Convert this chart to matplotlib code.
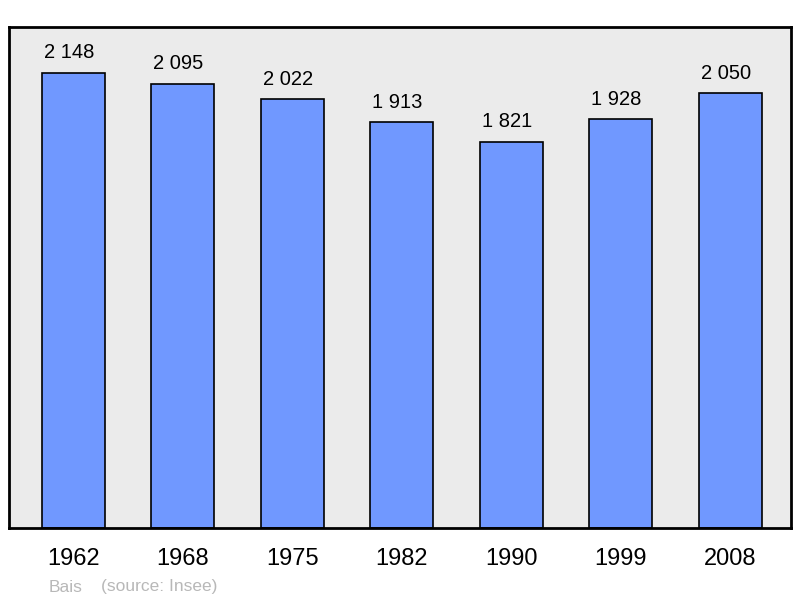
import matplotlib
matplotlib.use("Agg")
import matplotlib.pyplot as plt

plt.rcParams['font.family'] = ['Liberation Sans', 'DejaVu Sans']

years = ["1962", "1968", "1975", "1982", "1990", "1999", "2008"]
population = [2148, 2095, 2022, 1913, 1821, 1928, 2050]
value_labels = ["2 148", "2 095", "2 022", "1 913", "1 821", "1 928", "2 050"]

fig = plt.figure(figsize=(8.0, 5.98), dpi=100)
ax = fig.add_axes([9 / 800, 70 / 598, 782 / 800, 501 / 598])
ax.set_facecolor("#ebebeb")

x = range(len(years))
bars = ax.bar(x, population, width=0.575, color="#7098ff",
              edgecolor="black", linewidth=1.2, zorder=2)
for b, lab in zip(bars, value_labels):
    ax.annotate(lab, (b.get_x() + b.get_width() / 2, b.get_height()),
                xytext=(-3, 7.5), textcoords="offset points",
                ha="center", va="bottom", fontsize=14.5)

ax.set_xlim(-0.585, 6.555)
ax.set_ylim(0, max(population) * 1.1)
ax.set_xticks(list(x))
ax.set_xticklabels(years, fontsize=17)
ax.tick_params(axis="x", length=0, pad=14.5)
ax.set_yticks([])
for s in ax.spines.values():
    s.set_linewidth(2)
    s.set_color("black")

fig.text(49 / 800, 1 - 587 / 598, "Bais", fontsize=12.5, color="#b8b8b8", va="center")
fig.text(101 / 800, 1 - 587 / 598, "(source: Insee)", fontsize=12.5, color="#b8b8b8", va="center")

fig.savefig("out.png", dpi=100)
